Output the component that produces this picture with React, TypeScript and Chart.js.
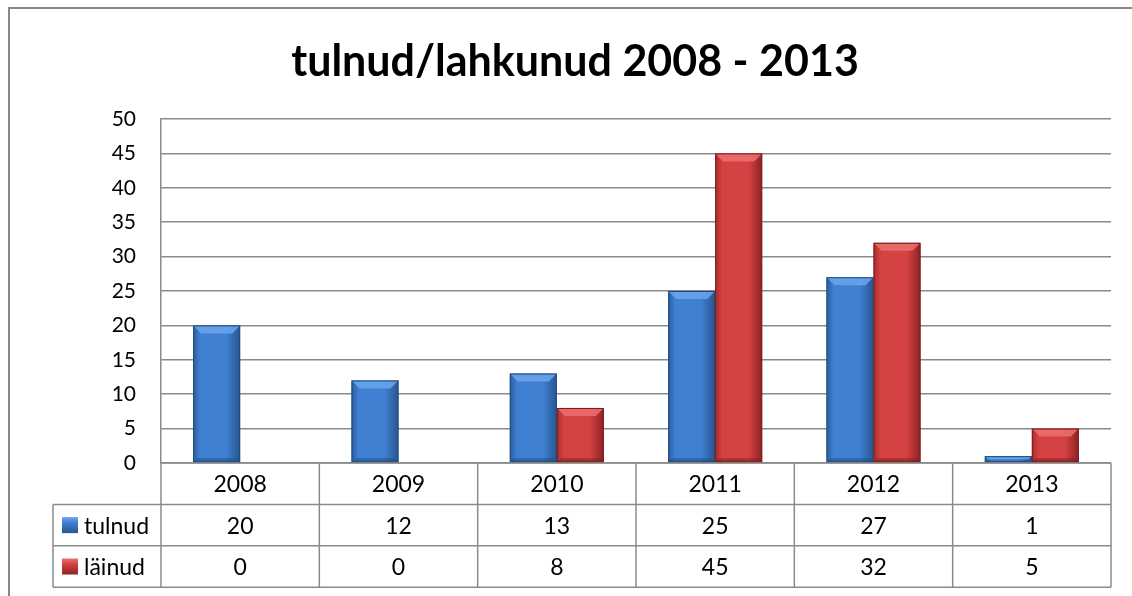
import React, { useEffect, useRef } from "react";
import { Chart, registerables } from "chart.js";
Chart.register(...registerables);

const categories = ["2008", "2009", "2010", "2011", "2012", "2013"];
const tulnud = [20, 12, 13, 25, 27, 1];
const lainud = [0, 0, 8, 45, 32, 5];
const seriesNames = ["tulnud", "läinud"];
const titleText = "tulnud/lahkunud 2008 - 2013";
const yMin = 0;
const yMax = 50;
const yStep = 5;

const FONT = "Lato, 'Open Sans', sans-serif";
const GRID = "#8a8a8a";
const CAT_PCT = 0.594;

const palettes = [
  { edgeL: "#2c5c9c", mid: "#3f80d2", edgeR: "#28558f", top: "#6aa6ec", bottom: "#1f4a80", legend: "#3a78c8" },
  { edgeL: "#a82c2c", mid: "#d54242", edgeR: "#8e2222", top: "#ec7070", bottom: "#7a1c1c", legend: "#c83a3a" },
];

function barFill(ctx: any, dsIndex: number) {
  const chart = ctx.chart;
  const p = palettes[dsIndex];
  const xs = chart.scales && chart.scales.x;
  if (!xs || !xs.width) return p.mid;
  const center = xs.getPixelForValue(ctx.dataIndex);
  const catW = xs.width / categories.length;
  const bw = (catW * CAT_PCT) / 2;
  const left = center - bw + dsIndex * bw;
  const g = chart.ctx.createLinearGradient(left, 0, left + bw, 0);
  g.addColorStop(0, p.edgeL);
  g.addColorStop(0.15, p.mid);
  g.addColorStop(0.7, p.mid);
  g.addColorStop(1, p.edgeR);
  return g;
}

const framePlugin = {
  id: "frame",
  beforeDraw(chart: any) {
    const c = chart.ctx;
    c.save();
    c.fillStyle = "#ffffff";
    c.fillRect(0, 0, chart.width, chart.height);
    c.strokeStyle = "#888888";
    c.lineWidth = 2;
    c.beginPath();
    c.moveTo(9, chart.height);
    c.lineTo(9, 8);
    c.lineTo(chart.width, 8);
    c.stroke();
    c.restore();
  },
  afterDraw(chart: any) {
    const c = chart.ctx;
    c.save();
    c.fillStyle = "#000000";
    c.font = `bold 43px ${FONT}`;
    c.textAlign = "center";
    c.textBaseline = "middle";
    c.fillText(titleText, 575, 62);
    c.restore();
  },
};

const bevelPlugin = {
  id: "bevel",
  afterDatasetsDraw(chart: any) {
    const c = chart.ctx;
    c.save();
    chart.data.datasets.forEach((ds: any, di: number) => {
      const meta = chart.getDatasetMeta(di);
      const p = palettes[di];
      meta.data.forEach((el: any) => {
        const h = el.base - el.y;
        if (h <= 0.5) return;
        const l = el.x - el.width / 2;
        const r = el.x + el.width / 2;
        const b = Math.min(8, h / 2);
        c.fillStyle = p.top;
        c.globalAlpha = 0.85;
        c.beginPath();
        c.moveTo(l, el.y);
        c.lineTo(r, el.y);
        c.lineTo(r - b, el.y + b);
        c.lineTo(l + b, el.y + b);
        c.closePath();
        c.fill();
        c.fillStyle = p.bottom;
        c.globalAlpha = 0.5;
        c.beginPath();
        c.moveTo(l, el.base);
        c.lineTo(r, el.base);
        c.lineTo(r - b * 0.5, el.base - b * 0.5);
        c.lineTo(l + b * 0.5, el.base - b * 0.5);
        c.closePath();
        c.fill();
        c.globalAlpha = 1;
        c.strokeStyle = p.bottom;
        c.lineWidth = 1;
        c.strokeRect(l + 0.5, el.y + 0.5, el.width - 1, h - 1);
      });
    });
    c.restore();
  },
};

const tablePlugin = {
  id: "dataTable",
  afterDraw(chart: any) {
    const c = chart.ctx;
    const xs = chart.scales.x;
    const area = chart.chartArea;
    const left = area.left;
    const right = area.right;
    const top = area.bottom;
    const rowH = 41.4;
    const labelLeft = 53;
    const n = categories.length;
    const catW = (right - left) / n;
    c.save();
    c.strokeStyle = GRID;
    c.lineWidth = 1.5;
    c.beginPath();
    c.moveTo(left, top);
    c.lineTo(right, top);
    for (let r = 1; r <= 3; r++) {
      const y = top + r * rowH;
      c.moveTo(labelLeft, y);
      c.lineTo(right, y);
    }
    for (let k = 0; k <= n; k++) {
      const x = left + k * catW;
      c.moveTo(x, top);
      c.lineTo(x, top + 3 * rowH);
    }
    c.moveTo(labelLeft, top + rowH);
    c.lineTo(labelLeft, top + 3 * rowH);
    c.stroke();

    c.fillStyle = "#000000";
    c.font = `23px ${FONT}`;
    c.textAlign = "center";
    c.textBaseline = "middle";
    const rows = [tulnud, lainud];
    categories.forEach((cat, i) => {
      const cx = xs.getPixelForValue(i);
      c.fillText(cat, cx, top + rowH / 2 + 1);
      rows.forEach((vals, r) => {
        c.fillText(String(vals[i]), cx, top + rowH * (r + 1.5) + 1);
      });
    });
    seriesNames.forEach((name, r) => {
      const cy = top + rowH * (r + 1.5);
      const p = palettes[r];
      const g = c.createLinearGradient(0, cy - 8, 0, cy + 8);
      g.addColorStop(0, p.top);
      g.addColorStop(0.35, p.mid);
      g.addColorStop(1, p.edgeR);
      c.fillStyle = g;
      c.fillRect(62, cy - 8, 16, 16);
      c.fillStyle = "#000000";
      c.textAlign = "left";
      c.fillText(name, 84, cy + 1);
    });
    c.restore();
  },
};

export default function App() {
  const ref = useRef<HTMLCanvasElement | null>(null);
  useEffect(() => {
    const canvas = ref.current;
    if (!canvas) return;
    const chart = new Chart(canvas, {
      type: "bar",
      data: {
        labels: categories,
        datasets: [
          {
            label: seriesNames[0],
            data: tulnud,
            backgroundColor: (ctx: any) => barFill(ctx, 0),
            categoryPercentage: CAT_PCT,
            barPercentage: 1,
          },
          {
            label: seriesNames[1],
            data: lainud,
            backgroundColor: (ctx: any) => barFill(ctx, 1),
            categoryPercentage: CAT_PCT,
            barPercentage: 1,
          },
        ],
      },
      options: {
        responsive: false,
        animation: false,
        devicePixelRatio: 1,
        layout: { padding: { top: 119, left: 0, right: 21, bottom: 133 } },
        plugins: {
          legend: { display: false },
          title: { display: false },
          tooltip: { enabled: false },
        },
        scales: {
          x: { display: false },
          y: {
            min: yMin,
            max: yMax,
            ticks: {
              stepSize: yStep,
              padding: 25,
              color: "#000000",
              font: { family: FONT, size: 21 },
            },
            grid: { color: GRID, lineWidth: 1.5, drawTicks: false },
            border: { display: true, color: GRID, width: 1.5 },
            afterFit: (s: any) => {
              s.width = 161;
            },
          },
        },
      },
      plugins: [framePlugin, bevelPlugin, tablePlugin],
    });
    chart.update();
    return () => chart.destroy();
  }, []);
  return (
    <div style={{ position: "fixed", left: 0, top: 0, width: 1132, height: 596 }}>
      <canvas ref={ref} width={1132} height={596} />
    </div>
  );
}
